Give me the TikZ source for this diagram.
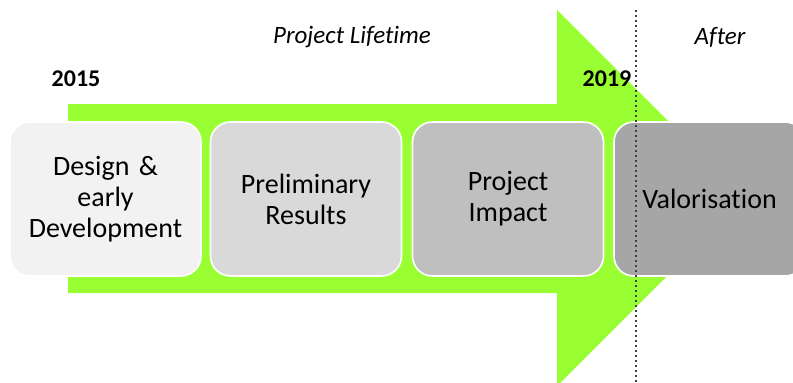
\documentclass[tikz,border=0pt]{standalone}
\usepackage{fontspec}
\setmainfont{Carlito}[Ligatures=NoCommon]
\definecolor{arrowgreen}{RGB}{153,255,51}
\definecolor{phaseA}{RGB}{242,242,242}
\definecolor{phaseB}{RGB}{217,217,217}
\definecolor{phaseC}{RGB}{191,191,191}
\definecolor{phaseD}{RGB}{166,166,166}
\definecolor{divider}{RGB}{64,64,64}
\begin{document}
\begin{tikzpicture}[x=1pt,y=-1pt,
  phase/.style={draw=white, line width=1.6pt, rounded corners=20pt,
    minimum width=191pt, minimum height=154pt, inner sep=0pt,
    align=center, text width=180pt,
    font=\fontsize{28}{31}\selectfont},
  yearlabel/.style={font=\fontsize{24}{28}\bfseries\selectfont},
  periodlabel/.style={font=\fontsize{25}{29}\itshape\selectfont},
  divline/.style={draw=divider, line width=2.6pt, dash pattern=on 2.4pt off 2.6pt}]
  \clip (0,0) rectangle (793,383);

  % timeline arrow
  \fill[arrowgreen] (68,104) -- (557,104) -- (557,10) -- (745,198)
    -- (557,386) -- (557,293) -- (68,293) -- cycle;

  % project phases
  \node[phase, fill=phaseA] (design) at (105.5,199) {Design \&\\early\\Development};
  \node[phase, fill=phaseB] (prelim) at (306,199) {Preliminary\\Results};
  \node[phase, fill=phaseC] (impact) at (508,199) {Project\\Impact};
  \node[phase, fill=phaseD] (valor) at (709.5,199) {Valorisation};

  % labels
  \node[periodlabel] (lifetime) at (352,37) {Project Lifetime};
  \node[periodlabel] (after) at (720,37) {After};
  \node[yearlabel] (ystart) at (76,79) {2015};
  \node[yearlabel] (yend) at (607,79) {2019};

  % end-of-project divider
  \coordinate (divtop) at (636,10);
  \coordinate (divbot) at (636,383);
  \draw[divline] (divtop) -- (divbot);
\end{tikzpicture}
\end{document}
